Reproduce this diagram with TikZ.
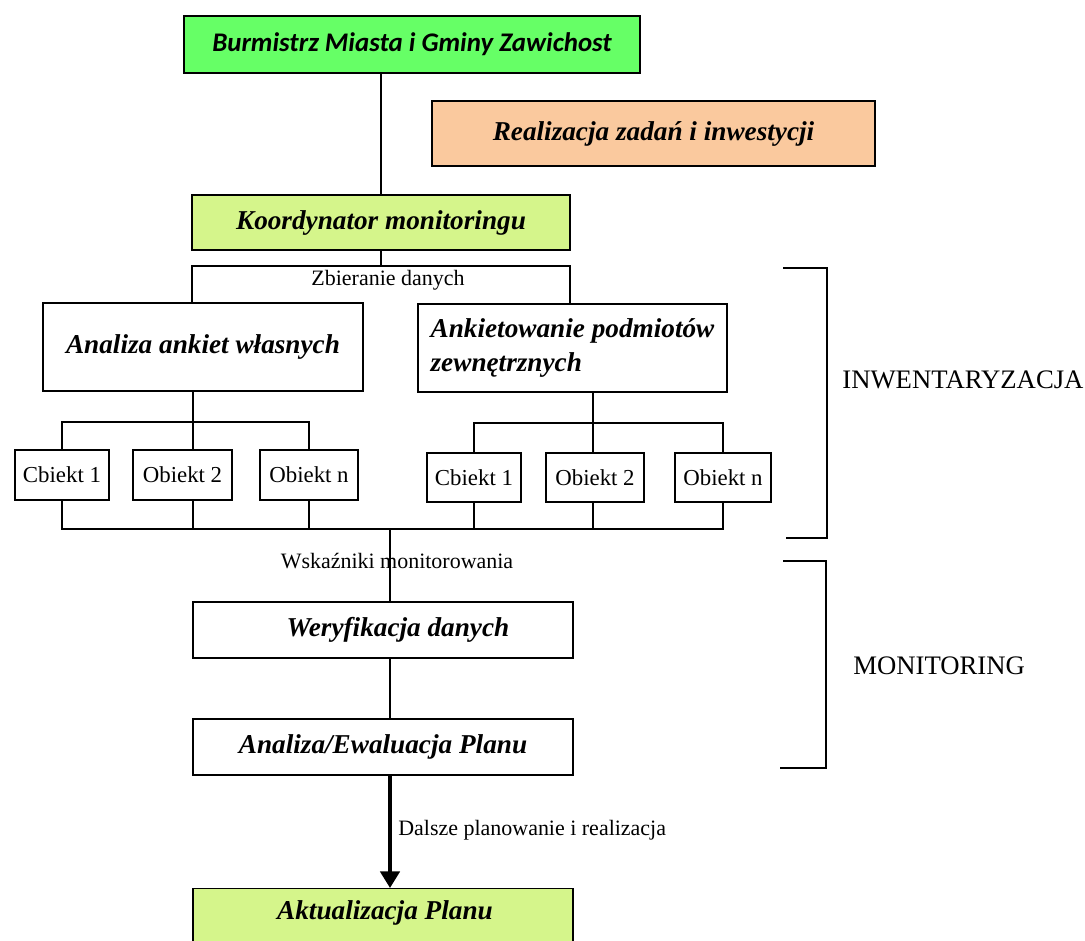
\documentclass[tikz,border=0pt]{standalone}
\usepackage{fontspec}
\setmainfont{Liberation Serif}
\newfontfamily\calib{Carlito}
\usetikzlibrary{arrows.meta}
\definecolor{burmgreen}{HTML}{66FF66}
\definecolor{lightlime}{HTML}{D5F58B}
\definecolor{peach}{HTML}{FAC99E}
\begin{document}
\begin{tikzpicture}[x=0.02cm,y=-0.02cm,
  box/.style={draw,line width=0.8pt,inner sep=0pt,
    font=\bfseries\itshape\fontsize{15.5}{19.5}\selectfont},
  objbox/.style={draw,line width=0.8pt,inner sep=0pt,
    font=\fontsize{13}{15}\selectfont},
  lbl/.style={inner sep=0pt,font=\fontsize{12.5}{15}\selectfont},
  sect/.style={inner sep=0pt,anchor=west,font=\fontsize{15.2}{18}\selectfont},
  conn/.style={line width=0.6pt}]
\useasboundingbox (0,0) rectangle (1085,940);
\clip (0,0) rectangle (1085,940);
% top of the chart
\node[box,fill=burmgreen,minimum width=9.12cm,minimum height=1.14cm,font=\calib\bfseries\itshape\fontsize{15.3}{18}\selectfont]
  (burm) at (412,44.5) {Burmistrz Miasta i Gminy Zawichost};
\node[box,fill=peach,minimum width=8.86cm,minimum height=1.3cm] (real) at (653.5,133.5) {Realizacja zadań i inwestycji};
\node[box,fill=lightlime,minimum width=7.56cm,minimum height=1.1cm] (koord) at (381,222.5) {Koordynator monitoringu};
% inventory
\node[box,minimum width=6.4cm,minimum height=1.76cm] (analiza) at (203,347) {Analiza ankiet własnych};
\node[box,minimum width=6.18cm,minimum height=1.76cm,align=left] (ankiet) at (572.5,348)
  {Ankietowanie podmiotów\\zewnętrznych};
\node[objbox,minimum width=1.88cm,minimum height=1cm] (o1) at (62,475) {Cbiekt 1};
\node[objbox,minimum width=1.98cm,minimum height=1cm] (o2) at (182.5,475) {Obiekt 2};
\node[objbox,minimum width=1.96cm,minimum height=1cm] (o3) at (309,475) {Obiekt n};
\node[objbox,minimum width=1.88cm,minimum height=0.98cm] (p1) at (474,477.5) {Cbiekt 1};
\node[objbox,minimum width=1.96cm,minimum height=0.98cm] (p2) at (595,477.5) {Obiekt 2};
\node[objbox,minimum width=1.92cm,minimum height=0.98cm] (p3) at (723,477.5) {Obiekt n};
% monitoring
\node[box,minimum width=7.6cm,minimum height=1.12cm] (wer) at (383,630) {\hspace{1.1em}Weryfikacja danych};
\node[box,minimum width=7.6cm,minimum height=1.12cm] (ewal) at (383,747) {Analiza/Ewaluacja Planu};
\node[box,fill=lightlime,minimum width=7.6cm,minimum height=1.2cm,anchor=north] (akt) at (383,888) {};
\node[inner sep=0pt,font=\bfseries\itshape\fontsize{15.5}{19.5}\selectfont] (akttxt) at (385,913) {Aktualizacja Planu};
% connectors
\coordinate (zl) at (192,266);
\coordinate (zr) at (570,266);
\coordinate (lt) at (193,422);
\coordinate (rt) at (593,423);
\coordinate (bt) at (390,529);
\draw[conn] (burm.south -| koord.north) -- (koord.north);
\draw[conn] (koord.south) -- (koord.south |- zl);
\draw[conn] (analiza.north -| zl) -- (zl) -- (zr) -- (ankiet.north -| zr);
\node[lbl] (zbier) at (388,280) {Zbieranie danych};
\draw[conn] (analiza.south -| lt) -- (lt);
\draw[conn] (o1.north) |- (lt) -| (o3.north);
\draw[conn] (lt) -- (o2.north -| lt);
\draw[conn] (ankiet.south -| rt) -- (rt);
\draw[conn] (p1.north) |- (rt) -| (p3.north);
\draw[conn] (rt) -- (p2.north -| rt);
\draw[conn] (o1.south) |- (p3.south |- bt) -- (p3.south);
\draw[conn] (o2.south -| lt) -- (lt |- bt);
\draw[conn] (o3.south) -- (o3.south |- bt);
\draw[conn] (p1.south) -- (p1.south |- bt);
\draw[conn] (p2.south -| rt) -- (rt |- bt);
\draw[conn] (bt) -- (wer.north -| bt);
\node[lbl] (wskaz) at (397,561) {Wskaźniki monitorowania};
\draw[conn] (wer.south -| bt) -- (ewal.north -| bt);
\draw[line width=2.2pt,-{Triangle[width=11pt,length=9.5pt]}] (ewal.south -| bt) -- (akt.north -| bt);
\node[lbl,anchor=west] (dalsze) at (398,830) {Dalsze planowanie i realizacja};
% brackets
\draw[conn] (783,268) -- (827,268) -- (827,538) -- (786,538);
\node[sect] (inw) at (842,380) {INWENTARYZACJA};
\draw[conn] (783,561) -- (826,561) -- (826,768) -- (780,768);
\node[sect] (mon) at (853,666) {MONITORING};
\end{tikzpicture}
\end{document}
